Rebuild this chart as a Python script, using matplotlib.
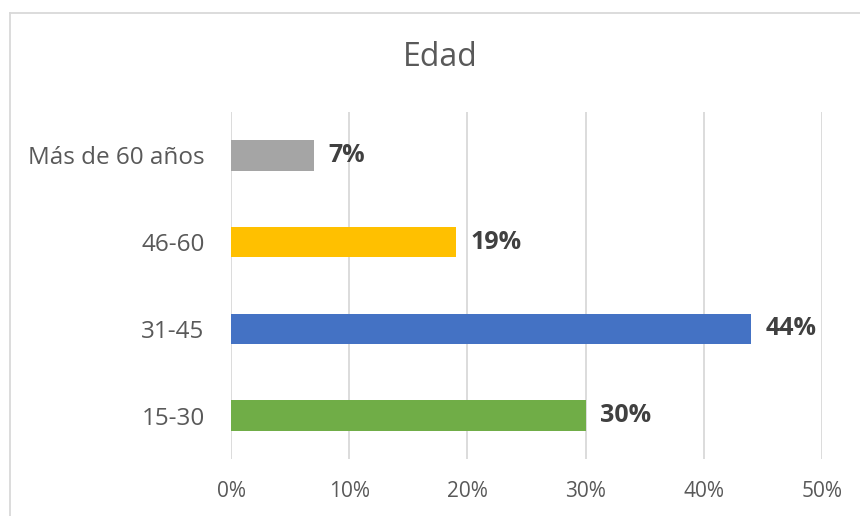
import numpy as np
import matplotlib.pyplot as plt
from matplotlib.lines import Line2D

categorias = ['15-30', '31-45', '46-60', 'Más de 60 años']
valores = [30, 44, 19, 7]
colores = ['#70AD47', '#4472C4', '#FFC000', '#A5A5A5']
ticks_x = [0, 10, 20, 30, 40, 50]

plt.rcParams['font.family'] = ['Open Sans', 'DejaVu Sans']

W, H = 860, 516
fig = plt.figure(figsize=(W / 100, H / 100), dpi=100)
ax = fig.add_axes([231 / W, 1 - 459 / H, (822 - 231) / W, (459 - 112) / H])

y = np.arange(len(categorias))
ax.barh(y, valores, height=0.35, color=colores, zorder=3)
for yi, v in zip(y, valores):
    ax.text(v + 1.25, yi, f'{v}%', va='center', ha='left', fontsize=18,
            fontweight='bold', color='#404040')

ax.set_xlim(0, 50)
ax.set_ylim(-0.5, len(categorias) - 0.5)
ax.set_yticks(y)
ax.set_yticklabels(categorias, fontsize=17.5, color='#595959')
ax.set_xticks(ticks_x)
ax.set_xticklabels([f'{t}%' for t in ticks_x], fontsize=15, color='#595959')
ax.tick_params(length=0)
ax.tick_params(axis='y', pad=19)
ax.tick_params(axis='x', pad=16)
ax.grid(axis='x', color='#D9D9D9', linewidth=1.3, zorder=0)
for s in ax.spines.values():
    s.set_visible(False)

fig.text(440 / W, 1 - 57 / H, 'Edad', ha='center', va='center', fontsize=23,
         color='#595959')

# borde del gráfico
fig.add_artist(Line2D([10 / W, 10 / W], [0, 1 - 13 / H], color='#D9D9D9', lw=1.3))
fig.add_artist(Line2D([10 / W, 1], [1 - 13 / H, 1 - 13 / H], color='#D9D9D9', lw=1.3))

fig.savefig('out.png', dpi=100)
